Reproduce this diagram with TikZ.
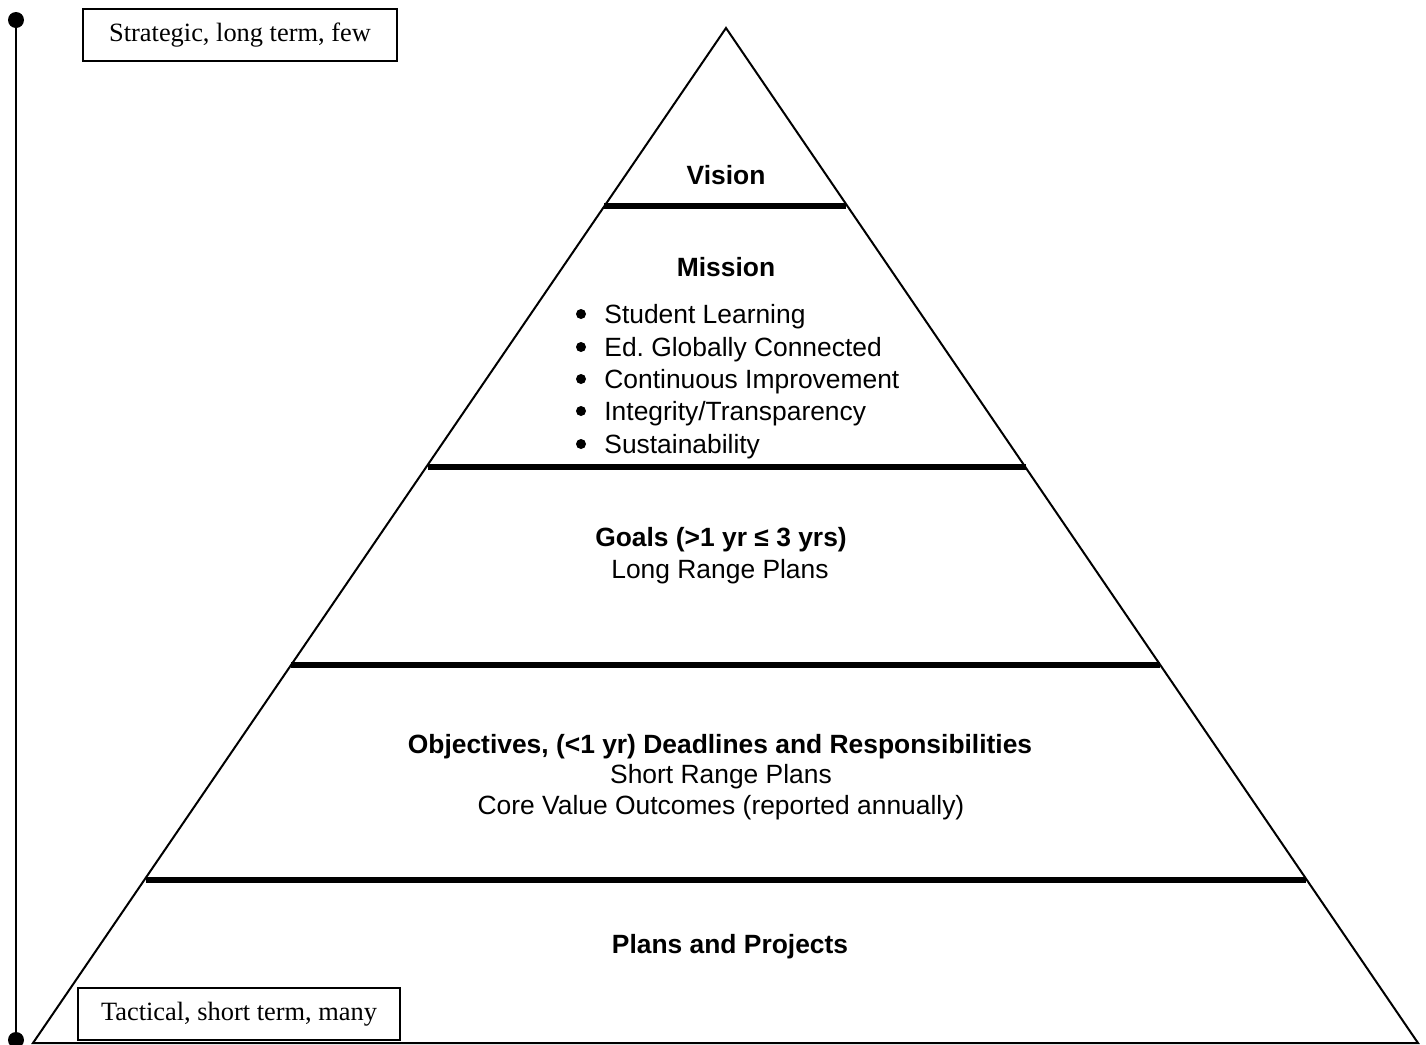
\documentclass[tikz,border=0pt]{standalone}
\usepackage{fontspec}
\setmainfont{Liberation Serif}
\setsansfont{Liberation Sans}
\frenchspacing
\begin{document}
\begin{tikzpicture}[x=0.5pt,y=-0.5pt,
  outline/.style={line width=1pt, line join=miter},
  band/.style={line width=3pt},
  lbl/.style={font=\sffamily\fontsize{13.2pt}{15pt}\selectfont, anchor=base, inner sep=0pt},
  blbl/.style={lbl, font=\sffamily\bfseries\fontsize{13.2pt}{15pt}\selectfont},
  item/.style={lbl, anchor=base west},
  bul/.style={circle, fill=black, inner sep=0pt, minimum size=5pt},
  sidebox/.style={draw, line width=0.6pt, minimum width=157pt, minimum height=26pt, inner sep=0pt,
     font=\rmfamily\fontsize{13.2pt}{15pt}\selectfont},
  dot/.style={circle, fill=black, inner sep=0pt, minimum size=8pt}
]
\useasboundingbox (0,0) rectangle (1426,1045);
% pyramid corners
\coordinate (apex) at (726,28);
\coordinate (bl) at (33,1043);
\coordinate (br) at (1418,1043);
\draw[outline] (bl) -- (apex) -- (br) -- cycle;
% bands
\draw[band] (604,206) -- (846,206);
\draw[band] (428,467) -- (1026,467);
\draw[band] (291,665) -- (1160,665);
\draw[band] (146,880) -- (1306,880);
% side scale
\node[dot] (dtop) at (16,20) {};
\node[dot] (dbot) at (16,1040) {};
\draw[line width=1pt] (dtop) -- (dbot);
\node[sidebox] (strat) at (240,35) {Strategic, long term, few};
\node[sidebox, minimum width=161pt] (tact) at (239,1014) {Tactical, short term, many};
% texts
\node[blbl] (vision) at (726,184) {Vision};
\node[blbl] (mission) at (726,276) {Mission};
\foreach \t/\y [count=\i] in {{Student Learning}/323, {Ed. Globally Connected}/356, {Continuous Improvement}/388, {Integrity/Transparency}/420, {Sustainability}/453}{
  \node[item] (m\i) at (604,\y) {\t};
  \node[bul] (b\i) at (581,\y-9) {};
}
\node[blbl] (goals) at (721,546) {Goals (>1 yr ≤ 3 yrs)};
\node[lbl] (lrp) at (720,578) {Long Range Plans};
\node[blbl] (obj) at (720,753) {Objectives, (<1 yr) Deadlines and Responsibilities};
\node[lbl] (srp) at (721,783) {Short Range Plans};
\node[lbl] (cvo) at (721,814) {Core Value Outcomes (reported annually)};
\node[blbl] (pp) at (730,953) {Plans and Projects};
\end{tikzpicture}
\end{document}
